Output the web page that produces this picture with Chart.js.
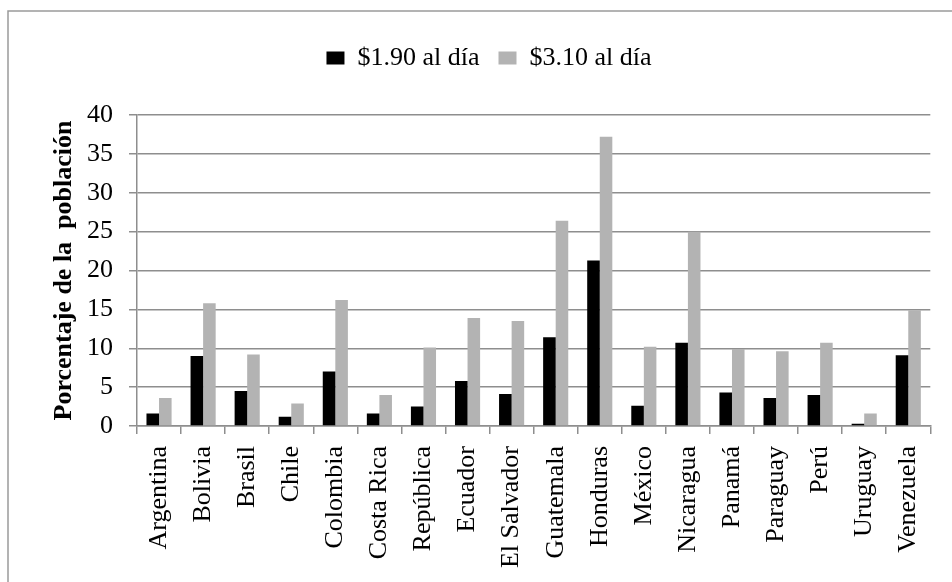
<!DOCTYPE html>
<html>
<head>
<meta charset="utf-8">
<script src="https://cdn.jsdelivr.net/npm/chart.js@4"></script>
<style>
  html, body { margin: 0; padding: 0; background: #fff; }
  #wrap { width: 952px; height: 582px; position: relative; }
</style>
</head>
<body>
<div id="wrap"><canvas id="c" width="952" height="582"></canvas></div>
<script>
const categories = ["Argentina", "Bolivia", "Brasil", "Chile", "Colombia", "Costa Rica", "República", "Ecuador", "El Salvador", "Guatemala", "Honduras", "México", "Nicaragua", "Panamá", "Paraguay", "Perú", "Uruguay", "Venezuela"];
const series190 = [1.6, 9.0, 4.5, 1.2, 7.0, 1.6, 2.5, 5.8, 4.1, 11.4, 21.3, 2.6, 10.7, 4.3, 3.6, 4.0, 0.3, 9.1];
const series310 = [3.6, 15.8, 9.2, 2.9, 16.2, 4.0, 10.1, 13.9, 13.5, 26.4, 37.2, 10.2, 25.0, 9.9, 9.6, 10.7, 1.6, 14.9];
const seriesLabels = ["$1.90 al día", "$3.10 al día"];
const yTicks = [0, 5, 10, 15, 20, 25, 30, 35, 40];
const yTitle = "Porcentaje de la  población";

const FONT = "'Liberation Serif', 'Times New Roman', serif";
const GRID = "#8e8e8e";

const frame = {
  id: 'frame',
  beforeDraw(chart) {
    const ctx = chart.ctx;
    ctx.save();
    ctx.fillStyle = '#fff';
    ctx.fillRect(0, 0, chart.width, chart.height);
    ctx.strokeStyle = '#9a9a9a';
    ctx.lineWidth = 1.5;
    ctx.beginPath();
    ctx.moveTo(8, chart.height + 2);
    ctx.lineTo(8, 11);
    ctx.lineTo(chart.width + 2, 11);
    ctx.stroke();
    ctx.restore();
  }
};

const legendSpace = {
  id: 'legendSpace',
  beforeInit(chart) {
    const orig = chart.legend.fit;
    chart.legend.fit = function () {
      orig.bind(chart.legend)();
      this.height += 34;
    };
  }
};

new Chart(document.getElementById('c'), {
  type: 'bar',
  data: {
    labels: categories,
    datasets: [
      { label: seriesLabels[0], data: series190, backgroundColor: '#000000', borderWidth: 0 },
      { label: seriesLabels[1], data: series310, backgroundColor: '#b3b3b3', borderWidth: 0 }
    ]
  },
  options: {
    responsive: false,
    animation: false,
    events: [],
    layout: { padding: { left: 45, right: 19, top: 26, bottom: 4 } },
    datasets: { bar: { categoryPercentage: 0.57, barPercentage: 1.0 } },
    plugins: {
      tooltip: { enabled: false },
      legend: {
        position: 'top',
        align: 'center',
        labels: {
          color: '#000',
          font: { family: FONT, size: 26 },
          boxWidth: 18,
          boxHeight: 13,
          padding: 19
        }
      }
    },
    scales: {
      x: {
        grid: { display: true, drawOnChartArea: false, drawTicks: true, tickLength: 8, color: GRID, lineWidth: 1.5, offset: true },
        border: { display: true, color: GRID, width: 1.5 },
        ticks: { color: '#000', font: { family: FONT, size: 26 }, minRotation: 90, maxRotation: 90, autoSkip: false, padding: 12 },
        afterFit(scale) { scale.height = 152; }
      },
      y: {
        min: 0,
        max: 40,
        afterBuildTicks(scale) { scale.ticks = yTicks.map(v => ({ value: v })); },
        grid: { color: GRID, lineWidth: 1.5, drawTicks: true, tickLength: 8 },
        border: { display: true, color: GRID, width: 1.5 },
        ticks: { color: '#000', font: { family: FONT, size: 26 }, padding: 16 },
        title: { display: true, text: yTitle, color: '#000', font: { family: FONT, size: 26, weight: 'bold' }, padding: { top: 4, bottom: 4 } },
        afterFit(scale) { scale.width = 92; }
      }
    }
  },
  plugins: [frame, legendSpace]
});
</script>
</body>
</html>
